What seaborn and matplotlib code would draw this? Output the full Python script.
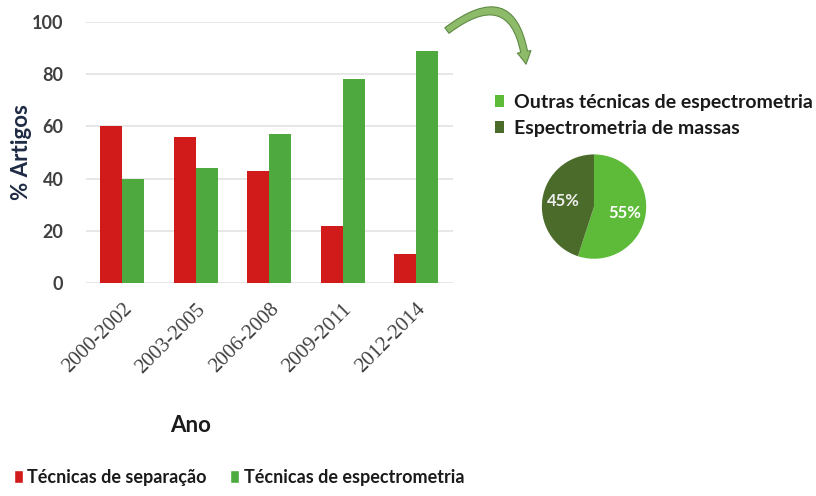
import matplotlib
matplotlib.use("Agg")
import matplotlib.pyplot as plt
import seaborn as sns
import pandas as pd
from matplotlib.patches import Patch, FancyArrowPatch

# ---- data ----
periods = ["2000-2002", "2003-2005", "2006-2008", "2009-2011", "2012-2014"]
separacao = [60, 56, 43, 22, 11]
espectrometria = [40, 44, 57, 78, 89]
series_names = ["Técnicas de separação", "Técnicas de espectrometria"]
pie_labels = ["Outras técnicas de espectrometria", "Espectrometria de massas"]
pie_values = [55, 45]
yticks = [0, 20, 40, 60, 80, 100]

sns.set_theme(style="white")
plt.rcParams['font.family'] = ['Lato', 'DejaVu Sans']

red = "#D11A1A"
green = "#4EAA3F"
light_green = "#5EBB3A"
dark_green = "#4B6B2B"

df = pd.DataFrame({
    "Ano": periods * 2,
    "valor": separacao + espectrometria,
    "serie": [series_names[0]] * len(periods) + [series_names[1]] * len(periods),
})

fig = plt.figure(figsize=(8.16, 4.96), dpi=100)
ax = fig.add_axes([0.105, 0.429, 0.45, 0.527])
sns.barplot(data=df, x="Ano", y="valor", hue="serie",
            palette=[red, green], ax=ax, width=0.6, gap=0.0, saturation=1,
            linewidth=0, legend=False)

ax.set_ylim(0, 100)
ax.set_yticks(yticks)
ax.set_yticklabels([str(t) for t in yticks], fontsize=13, fontweight="bold", color="#404040")
ax.yaxis.grid(True, color="#E3E3E3", linewidth=1.2)
ax.set_axisbelow(True)
for s in ax.spines.values():
    s.set_visible(False)
ax.tick_params(axis="y", length=0, pad=16)
ax.tick_params(axis="x", length=0, pad=12)
ax.set_xticks(range(len(periods)))
ax.set_xticklabels(periods, rotation=45, ha="right", rotation_mode="anchor",
                   fontsize=15, color="#404040", fontfamily=["Liberation Serif", "DejaVu Serif"])
ax.set_ylabel("% Artigos", fontsize=16, fontweight="bold", color="#1F2A44", labelpad=0)
ax.set_xlabel("")
fig.text(0.233, 0.143, "Ano", fontsize=16, fontweight="bold", color="#1A1A1A", ha="center", va="center")

# bottom legend
handles = [Patch(facecolor=red), Patch(facecolor=green)]
fig.legend(handles, series_names, loc="lower left", bbox_to_anchor=(-0.003, -0.012),
           ncol=2, frameon=False, handlelength=0.5, handleheight=0.8, handletextpad=0.25,
           columnspacing=1.3, prop={"size": 13, "weight": "bold"}, labelcolor="#1A1A1A")

# pie
pax = fig.add_axes([0.648, 0.452, 0.16, 0.263])
wedges, texts = pax.pie(pie_values, colors=[light_green, dark_green], startangle=90,
                        counterclock=False, radius=1.0, wedgeprops={"linewidth": 0})
pax.set_xlim(-1.25, 1.25)
pax.set_ylim(-1.25, 1.25)
pax.set_aspect("equal")
pax.text(0.58, -0.13, "55%", color="white", fontsize=12, fontweight="bold", ha="center", va="center")
pax.text(-0.58, 0.10, "45%", color="#EEEEEE", fontsize=12, fontweight="bold", ha="center", va="center")
pax.legend(wedges, pie_labels, loc="lower left", bbox_to_anchor=(-0.39, 0.9),
           frameon=False, handlelength=0.45, handleheight=0.55, handletextpad=0.5,
           labelspacing=0.45, prop={"size": 14, "weight": "bold"}, labelcolor="#1A1A1A")

# curved arrow
arrow = FancyArrowPatch((0.545, 0.935), (0.645, 0.865), transform=fig.transFigure,
                        connectionstyle="arc3,rad=-0.9",
                        arrowstyle="simple,head_width=10,head_length=9,tail_width=5",
                        facecolor="#8DBB6A", edgecolor="#5E8A45", linewidth=0.8)
fig.patches.append(arrow)

fig.savefig("out.png", dpi=100)
